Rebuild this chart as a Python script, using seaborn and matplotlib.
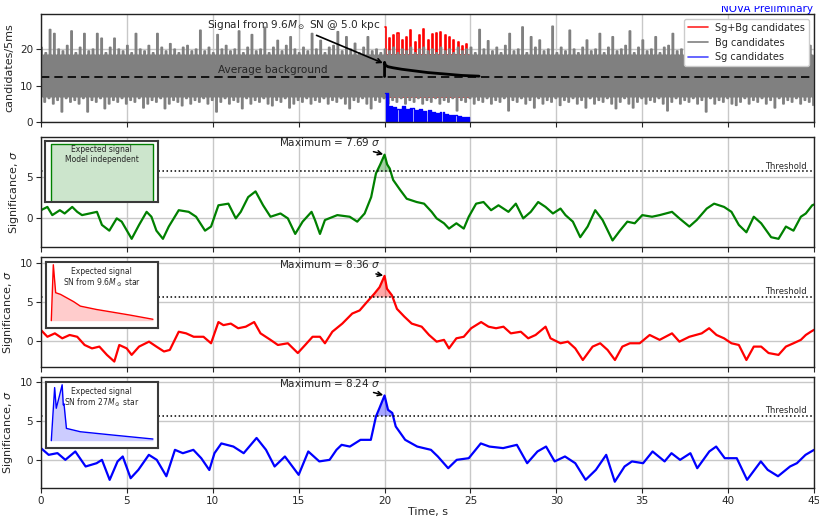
import numpy as np
import pandas as pd
import matplotlib
matplotlib.use("Agg")
import matplotlib.pyplot as plt
from matplotlib.lines import Line2D
from matplotlib.transforms import Bbox, TransformedBbox
import seaborn as sns

# ---------------- candidate-rate envelope, 0.25 s bins over 0..45 s ----------------
BIN = 0.25
BAND_CORE = (7.0, 18.3)   # levels reached in nearly every bin
bg_hi = [20.5, 19.0, 25.4, 24.3, 20.0, 19.5, 21.0, 25.0, 19.0, 20.5,
         24.3, 19.5, 20.0, 24.3, 23.0, 19.0, 20.5, 23.0, 20.0, 19.5,
         21.0, 19.0, 24.3, 20.0, 19.5, 21.0, 19.0, 24.3, 20.5, 19.5,
         21.5, 20.0, 19.0, 20.5, 21.0, 19.5, 20.0, 25.2, 19.5, 20.5,
         19.0, 24.0, 20.0, 21.0, 19.5, 20.0, 25.0, 19.0, 20.5, 24.0,
         19.5, 20.0, 26.0, 19.0, 20.5, 22.4, 19.5, 21.0, 23.4, 20.0,
         19.0, 20.5, 19.5, 24.3, 20.0, 22.4, 19.0, 20.5, 21.0, 24.8,
         19.5, 23.4, 20.0, 21.6, 19.0, 20.5, 23.4, 19.5, 20.0, 19.0,
         20.0, 19.5, 20.5, 19.0, 20.0, 19.5, 20.5, 19.0, 20.0, 20.5,
         19.5, 20.0, 19.0, 20.5, 19.5, 20.0, 19.0, 20.5, 19.5, 20.0,
         20.5, 19.0, 25.4, 20.0, 22.3, 19.5, 20.5, 19.0, 21.0, 24.3,
         19.5, 20.0, 26.1, 19.0, 23.4, 20.5, 22.5, 19.5, 20.0, 26.3,
         19.0, 20.5, 19.5, 25.2, 20.0, 19.0, 20.5, 22.5, 19.5, 20.0,
         24.3, 19.0, 20.5, 23.4, 19.5, 20.0, 21.0, 25.0, 19.0, 20.5,
         22.5, 19.5, 20.0, 23.4, 19.0, 20.5, 21.0, 24.3, 19.5, 20.0,
         23.4, 19.0, 20.5, 21.0, 19.5, 20.0, 22.0, 19.0, 20.5, 21.5,
         19.5, 20.0, 21.0, 19.0, 20.5, 22.0, 19.5, 20.0, 21.0, 19.0,
         20.5, 21.5, 19.5, 20.0, 19.0, 21.0, 20.5, 19.5, 20.0, 21.0]
bg_lo = [5.5, 6.5, 5.0, 6.0, 2.8, 6.5, 5.5, 6.0, 5.0, 6.5,
         2.8, 6.0, 5.5, 6.5, 3.7, 5.0, 6.0, 5.5, 6.5, 5.0,
         6.0, 5.5, 6.5, 3.9, 5.0, 6.0, 5.5, 6.5, 3.7, 5.0,
         6.0, 5.5, 4.5, 6.5, 5.0, 6.0, 5.5, 6.5, 5.0, 6.0,
         2.8, 5.5, 6.5, 5.0, 6.0, 5.5, 3.7, 6.5, 5.0, 6.0,
         5.5, 6.5, 5.0, 4.5, 6.0, 5.5, 6.5, 3.9, 5.0, 6.0,
         5.5, 6.5, 5.0, 6.0, 5.5, 6.5, 5.0, 6.0, 5.5, 6.5,
         5.0, 3.7, 6.0, 5.5, 6.5, 5.0, 3.7, 6.0, 5.5, 6.5,
         5.0, 6.0, 5.5, 6.5, 5.0, 6.0, 5.5, 6.5, 5.0, 6.0,
         5.5, 6.5, 5.0, 6.0, 5.5, 6.5, 3.1, 6.0, 5.5, 6.5,
         5.0, 6.0, 5.5, 6.5, 5.0, 6.0, 5.5, 6.5, 3.1, 6.0,
         5.5, 6.5, 5.0, 6.0, 3.9, 6.5, 5.0, 6.0, 5.5, 6.5,
         4.6, 6.0, 5.5, 6.5, 5.0, 6.0, 3.9, 6.5, 5.0, 6.0,
         5.5, 6.5, 5.0, 3.7, 5.5, 6.5, 5.0, 3.9, 5.5, 6.5,
         5.0, 6.0, 5.5, 6.5, 5.0, 3.1, 5.5, 6.5, 5.0, 6.0,
         5.5, 6.5, 5.0, 6.0, 2.8, 6.5, 5.0, 6.0, 5.5, 6.5,
         5.0, 4.6, 5.5, 6.5, 5.0, 6.0, 5.5, 6.5, 5.0, 6.0,
         3.9, 6.5, 5.0, 6.0, 5.5, 6.5, 5.0, 6.0, 5.5, 4.6]

# signal window 20..25 s
SIG_START = 20.0
sgbg_hi = [26.0, 23.0, 24.0, 24.5, 22.5, 23.5, 25.3, 22.0, 24.0, 25.6,
           22.5, 24.3, 24.5, 24.8, 24.0, 23.4, 22.5, 22.0, 21.0, 21.5]
sg_hi = [8.0, 4.5, 4.0, 3.5, 4.3, 3.6, 3.8, 3.2, 3.5, 3.0,
         3.2, 2.8, 2.6, 2.8, 2.2, 2.0, 1.8, 1.6, 1.4, 1.3]

AVG_BG = 12.5
expect_t = [20.0, 20.0, 20.05, 20.2, 20.5, 21.0, 21.5, 22.0, 22.5, 23.0, 23.5, 24.0, 24.5, 25.0, 25.5]
expect_v = [12.5, 16.4, 15.6, 15.2, 14.9, 14.5, 14.2, 13.9, 13.6, 13.4, 13.2, 13.0, 12.8, 12.7, 12.6]

# ---------------- significance time series ----------------
THRESHOLD = 5.65
PEAK_T = 20.0
peak_green, peak_red, peak_blue = 7.69, 8.36, 8.24

green_t = [0.0, 0.375, 0.66, 1.10, 1.38, 1.82, 2.11, 2.39, 2.83, 3.26, 3.55, 3.98, 4.41, 4.70,
           5.28, 5.71, 6.15, 6.43, 6.72, 7.10, 7.44, 8.02, 8.60, 9.03, 9.55, 9.90, 10.33, 10.91,
           11.34, 11.63, 12.06, 12.49, 12.93, 13.36, 13.94, 14.37, 14.80, 15.23, 15.75, 15.95,
           16.24, 16.53, 17.25, 17.97, 18.41, 18.84, 19.22, 19.5, 19.75, 20.0, 20.15, 20.3,
           20.5, 20.9, 21.29, 21.87, 22.30, 22.74, 23.03, 23.46, 23.75, 24.18, 24.61, 24.90,
           25.33, 25.76, 26.20, 26.63, 27.21, 27.64, 28.07, 28.51, 28.94, 29.37, 29.80, 30.24,
           30.53, 30.96, 31.39, 31.82, 32.26, 32.69, 33.27, 33.70, 34.13, 34.56, 35.0, 35.57,
           36.01, 36.73, 37.16, 37.74, 38.17, 38.75, 39.18, 39.76, 40.19, 40.62, 41.06, 41.49,
           41.92, 42.50, 42.93, 43.36, 43.80, 44.23, 44.52, 44.89, 45.0]
green_v = [0.9, 1.3, 0.3, 0.9, 0.5, 1.3, 0.7, 0.3, 0.5, 0.7, -0.9, -1.6, -0.1, -0.5,
           -2.6, -0.9, 0.7, 0.1, -1.6, -2.6, -1.1, 0.9, 0.7, 0.1, -1.6, -1.1, 1.5, 1.7,
           -0.1, 0.7, 2.5, 3.2, 1.5, 0.1, 0.5, -0.1, -2.0, -0.5, 0.7, -0.3,
           -2.0, -0.3, 0.3, 0.1, -0.5, 0.5, 2.5, 5.4, 6.5, peak_green, 6.5, 6.0,
           4.6, 3.4, 2.3, 1.9, 1.7, 0.7, -0.1, -0.7, -1.35, -0.7, -1.35, 0.1,
           1.7, 1.9, 0.9, 1.5, 0.7, 1.7, -0.1, 0.7, 1.9, 1.3, 0.5, 1.1,
           0.3, -0.5, -2.4, -1.1, 0.9, -0.3, -2.8, -1.6, -0.5, -0.7, 0.3, 0.1,
           0.3, 0.7, -0.1, -1.1, -0.3, 1.1, 1.7, 1.3, 0.7, -0.9, -1.8, 0.1,
           -0.7, -2.4, -2.6, -1.1, -1.6, 0.1, 0.5, 1.5, 1.6]

red_t = [0.0, 0.375, 0.81, 1.24, 1.67, 2.11, 2.54, 2.97, 3.40, 3.84, 4.27, 4.56, 4.99, 5.28,
         5.71, 6.29, 6.72, 7.16, 7.50, 8.02, 8.45, 8.89, 9.46, 9.90, 10.33, 10.62, 11.05,
         11.48, 11.92, 12.41, 12.78, 13.36, 13.79, 14.37, 14.95, 15.38, 15.81, 16.24, 16.53,
         16.96, 17.54, 18.12, 18.55, 18.98, 19.42, 19.71, 20.0, 20.14, 20.43, 20.72, 21.15,
         21.58, 22.16, 22.59, 23.03, 23.46, 23.75, 24.18, 24.61, 25.04, 25.62, 26.05, 26.49,
         26.92, 27.35, 27.93, 28.36, 28.79, 29.37, 29.66, 30.24, 30.67, 31.10, 31.54, 32.11,
         32.55, 32.98, 33.41, 33.84, 34.28, 34.85, 35.43, 36.01, 36.73, 37.16, 37.74, 38.46,
         38.89, 39.32, 39.76, 40.19, 40.62, 41.06, 41.49, 41.92, 42.35, 42.93, 43.36, 43.80,
         44.23, 44.52, 44.81, 45.0]
red_v = [1.37, 0.5, 0.94, 0.3, 0.73, 0.5, -0.56, -1.0, -0.77, -1.84, -2.7, -0.56, -1.0, -1.84,
         -0.77, -0.13, -0.77, -1.4, -1.2, 1.15, 0.94, 0.5, 0.5, -0.34, 2.4, 2.0, 2.2,
         1.6, 1.8, 2.4, 0.94, 0.1, -0.56, -0.34, -1.6, -0.56, 0.5, 0.5, -0.34,
         1.15, 2.2, 3.5, 3.9, 5.0, 6.1, 6.9, peak_red, 6.7, 5.85, 4.1, 3.1,
         2.2, 1.8, 0.73, -0.13, 0.1, -1.0, 0.3, 0.5, 1.6, 2.4, 1.8, 1.6,
         1.8, 0.94, 1.15, 0.3, 0.73, 1.8, 0.3, -0.34, -0.13, -1.0, -2.5, -0.77,
         -0.34, -1.2, -2.5, -0.77, -0.34, -0.34, 0.73, 0.1, 0.94, -0.13, 0.5, 0.94,
         1.6, 0.73, 0.3, -0.34, -0.56, -2.5, -0.77, -0.77, -1.6, -1.84, -0.77, -0.34,
         0.1, 0.73, 1.15, 1.4]

blue_t = [0.0, 0.45, 0.96, 1.42, 2.0, 2.6, 3.24, 3.55, 4.0, 4.46, 4.76, 5.22, 5.67, 6.28, 6.74,
          7.3, 7.8, 8.26, 8.87, 9.33, 9.8, 10.1, 10.5, 11.2, 11.8, 12.55, 13.1, 13.6, 14.2,
          15.0, 15.56, 16.2, 16.8, 17.2, 17.5, 17.98, 18.6, 19.2, 19.5, 19.7, 20.0, 20.2,
          20.45, 20.65, 21.2, 21.9, 22.7, 23.1, 23.7, 24.2, 24.9, 25.6, 26.1, 26.9, 27.7,
          28.3, 28.9, 29.4, 29.9, 30.5, 31.1, 31.7, 32.3, 32.9, 33.4, 33.97, 34.4, 35.05,
          35.6, 36.3, 36.7, 37.2, 37.8, 38.2, 38.9, 39.3, 39.8, 40.5, 41.1, 41.9, 42.3, 42.9,
          43.6, 44.0, 44.5, 45.0]
blue_v = [1.5, 0.64, 0.86, 0.0, 1.07, -0.85, -0.43, 0.0, -2.56, -0.2, 0.43, -2.35, -1.28,
          0.64, 0.0, -2.1, 1.28, 0.85, 1.28, 0.21, -1.3, 0.85, 2.1, 1.7, 0.85, 2.8, 1.28,
          -0.85, 0.43, -1.92, 1.07, -0.2, 0.0, 1.28, 1.92, 1.7, 2.56, 2.56, 5.55, 6.6,
          peak_blue, 6.4, 6.0, 4.27, 2.56, 1.7, 1.28, 0.43, -1.07, 0.0, 0.21, 2.1, 1.7, 1.5,
          1.92, -0.43, 1.07, 1.7, -0.2, 0.43, -0.43, -2.56, -1.28, 0.64, -2.8, -0.85, -0.2,
          -0.43, 1.07, -0.2, 0.85, 0.0, 0.85, -1.07, 1.07, 1.7, 0.21, 0.21, -2.56, -0.2,
          -1.28, -2.1, -0.85, -0.43, 0.64, 1.28]

# ---------------- expected signal shapes (normalised) ----------------
flat_x = [0.0, 0.0, 1.0, 1.0]
flat_y = [0.0, 1.0, 1.0, 0.0]
sn96_x = [0.0, 0.02, 0.043, 0.091, 0.22, 0.286, 0.445, 0.61, 0.774, 1.0]
sn96_y = [0.0, 1.0, 0.50, 0.47, 0.34, 0.26, 0.20, 0.15, 0.10, 0.025]
sn27_x = [0.0, 0.033, 0.049, 0.08, 0.107, 0.118, 0.125, 0.149, 0.286, 0.61, 1.0]
sn27_y = [0.0, 0.95, 0.58, 0.80, 1.0, 0.64, 0.66, 0.22, 0.16, 0.10, 0.03]

# ---------------- figure ----------------
sns.set_theme(style="ticks")
plt.rcParams["font.family"] = ["DejaVu Sans"]
plt.rcParams["mathtext.fontset"] = "dejavusans"

fig = plt.figure(figsize=(8.19, 5.16), dpi=100)
L, W = 0.050, 0.944
ax0 = fig.add_axes([L, 0.7636, W, 0.2093])
ax1 = fig.add_axes([L, 0.5213, W, 0.2132])
ax2 = fig.add_axes([L, 0.2888, W, 0.2132])
ax3 = fig.add_axes([L, 0.0543, W, 0.2151])
GRID = "#c8c8c8"


def band(t0, hi, lo, core_hi, core_lo):
    """Step path that sweeps each bin's upper range, core and lower range."""
    n = len(hi)
    core_hi = np.broadcast_to(np.asarray(core_hi, float), (n,))
    core_lo = np.broadcast_to(np.asarray(core_lo, float), (n,))
    lo = np.broadcast_to(np.asarray(lo, float), (n,))
    xs, ys = [], []
    q = BIN / 4
    for i in range(n):
        x0 = t0 + i * BIN
        xs += [x0, x0 + q, x0 + 2 * q, x0 + 3 * q]
        ys += [hi[i], core_lo[i], core_hi[i], lo[i]]
    return pd.DataFrame({"t": xs, "n": ys})


def style_axes(ax):
    ax.set_xlim(0, 45)
    ax.set_xticks(np.arange(0, 46, 5))
    ax.grid(True, color=GRID, lw=1.0)
    ax.set_axisbelow(True)
    for s in ax.spines.values():
        s.set_visible(True)
        s.set_color("#222222")
        s.set_linewidth(1.0)
    ax.tick_params(labelsize=7.5, length=3.5, width=0.8, direction="out", pad=2)


# -- top panel: candidate counts
step_kw = dict(drawstyle="steps-post", estimator=None, sort=False)
core_lo, core_hi = BAND_CORE
sns.lineplot(data=band(SIG_START, sgbg_hi, core_lo, core_hi, core_lo), x="t", y="n",
             ax=ax0, color="red", lw=1.2, **step_kw)
sns.lineplot(data=band(0, bg_hi, bg_lo, core_hi, core_lo), x="t", y="n", ax=ax0,
             color="#808080", lw=1.3, **step_kw)
zeros = [0.0] * len(sg_hi)
sns.lineplot(data=band(SIG_START, sg_hi, zeros, sg_hi, zeros), x="t", y="n", ax=ax0,
             color="blue", lw=1.0, **step_kw)
ax0.axhline(AVG_BG, color="black", ls="--", lw=1.2, dashes=(5, 3))
sns.lineplot(x=expect_t, y=expect_v, ax=ax0, color="black", lw=2.0,
             estimator=None, sort=False)
ax0.set_ylim(0, 29.7)
ax0.set_yticks([0, 10, 20])
style_axes(ax0)
ax0.set_xticklabels([])
ax0.set_xlabel("")
ax0.set_ylabel("candidates/5ms", fontsize=8)
ax0.text(13.5, AVG_BG + 0.5, "Average background", ha="center", va="bottom", fontsize=7.6)
ax0.annotate(r"Signal from 9.6$M_\odot$ SN @ 5.0 kpc", xy=(19.9, 16.2), xytext=(14.7, 26.8),
             ha="center", va="center", fontsize=7.6,
             arrowprops=dict(arrowstyle="->", color="black", lw=1.2, relpos=(0.58, 0.0),
                             shrinkA=1, shrinkB=0))
handles = [Line2D([], [], color="red", alpha=0.85, lw=1.2),
           Line2D([], [], color="#808080", lw=1.2),
           Line2D([], [], color="blue", alpha=0.7, lw=1.2)]
ax0.legend(handles, ["Sg+Bg candidates", "Bg candidates", "Sg candidates"],
           loc="upper right", fontsize=7, framealpha=1.0, handlelength=2.0)

tag = fig.text(0.993, 1 - 12 / 516, "NOVA Preliminary", ha="right", va="baseline",
               fontsize=7.5, color="blue")
tag.set_clip_box(TransformedBbox(Bbox([[0, 0], [1, 1 - 5.5 / 516]]), fig.transFigure))
tag.set_clip_on(True)

# -- significance panels
panels = [
    (ax1, green_t, green_v, "green", peak_green, (-3.6, 9.85), [0, 5],
     [L + 0.0049, 0.6085, 0.138, 0.118], flat_x, flat_y,
     "Expected signal\nModel independent"),
    (ax2, red_t, red_v, "red", peak_red, (-3.4, 10.8), [0, 5, 10],
     [L + 0.0058, 0.365, 0.137, 0.127], sn96_x, sn96_y,
     "Expected signal\nSN from 9.6$M_\\odot$ star"),
    (ax3, blue_t, blue_v, "blue", peak_blue, (-3.6, 10.6), [0, 5, 10],
     [L + 0.0058, 0.1324, 0.137, 0.127], sn27_x, sn27_y,
     "Expected signal\nSN from 27$M_\\odot$ star"),
]

for ax, ts, vs, col, pk, ylim, yt, ipos, ex, ey, itxt in panels:
    df = pd.DataFrame({"t": ts, "sigma": vs})
    sns.lineplot(data=df, x="t", y="sigma", ax=ax, color=col, lw=1.6,
                 estimator=None, sort=False)
    tt = np.asarray(ts, float)
    vv = np.asarray(vs, float)
    ax.fill_between(tt, THRESHOLD, vv, where=vv >= THRESHOLD, interpolate=True,
                    color=col, alpha=0.35, lw=0)
    ax.axhline(THRESHOLD, color="black", ls=":", lw=1.1)
    ax.text(44.55, THRESHOLD + 0.1, "Threshold", ha="right", va="bottom", fontsize=6)
    ax.annotate(f"Maximum = {pk:.2f} $\\sigma$", xy=(PEAK_T, pk),
                xytext=(16.8, pk + 1.55 if ax is ax1 else 9.85),
                ha="center", va="center", fontsize=7.5,
                arrowprops=dict(arrowstyle="->", color="black", lw=1.1,
                                relpos=(0.8, 0.0), shrinkA=1, shrinkB=1))
    ax.set_ylim(*ylim)
    ax.set_yticks(yt)
    style_axes(ax)
    ax.set_ylabel("Significance, $\\sigma$", fontsize=8)
    ax.set_xlabel("")
    if ax is not ax3:
        ax.set_xticklabels([])

    ins = fig.add_axes(ipos)
    sns.lineplot(x=ex, y=ey, ax=ins, color=col, lw=1.0, estimator=None, sort=False)
    ins.fill_between(ex, 0, ey, color=col, alpha=0.2, lw=0)
    ins.set_xlim(-0.055, 1.049)
    ins.set_ylim(-0.125, 1.047) if ax is not ax1 else ins.set_ylim(-0.017, 1.053)
    ins.set_xticks([])
    ins.set_yticks([])
    ins.set_facecolor("white")
    for s in ins.spines.values():
        s.set_visible(True)
        s.set_color("#3a3a3a")
        s.set_linewidth(1.5)
    ins.text(0.5, 0.93, itxt, transform=ins.transAxes, ha="center", va="top",
             fontsize=5.5, linespacing=1.05)

ax3.set_xlabel("Time, s", fontsize=8, labelpad=1)

fig.savefig("out.png", dpi=100)
